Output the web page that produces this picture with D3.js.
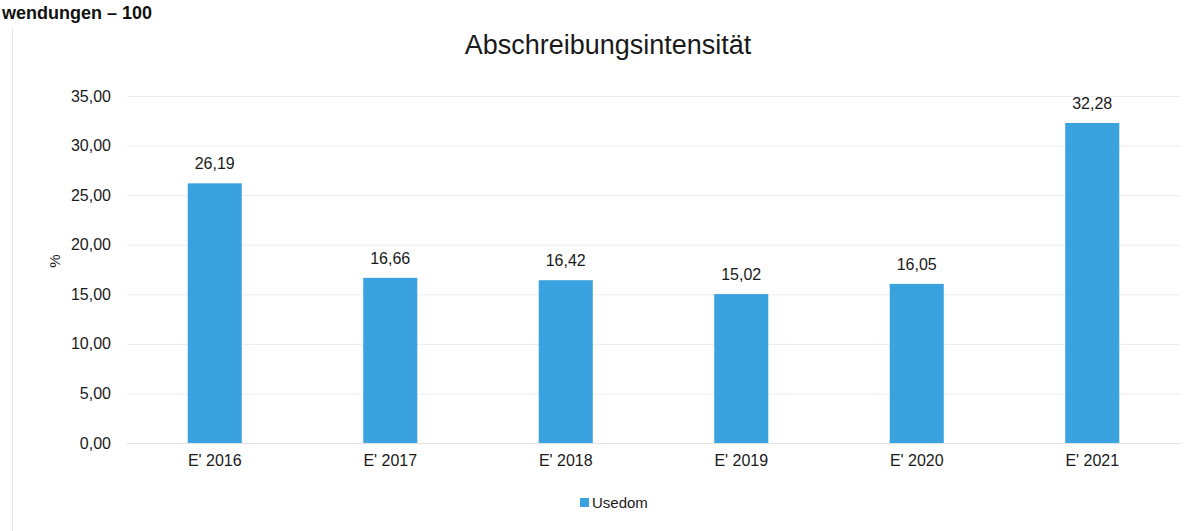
<!DOCTYPE html>
<html><head><meta charset="utf-8">
<script src="https://cdn.jsdelivr.net/npm/d3@7"></script>
<style>body{margin:0;background:#fff;}svg{display:block;font-family:Arial,"Liberation Sans",sans-serif;}</style>
</head><body><svg id="c" width="1201" height="531"></svg>
<script>
const categories = ["E' 2016","E' 2017","E' 2018","E' 2019","E' 2020","E' 2021"];
const values = [26.19,16.66,16.42,15.02,16.05,32.28];
const yTicks = [0,5,10,15,20,25,30,35];
const seriesName = "Usedom";
const fmt = v => d3.format(".2f")(v).replace(".", ",");

const svg = d3.select("#c");
const x = d3.scaleBand().domain(categories).range([127,1180]).paddingInner(0.692).paddingOuter(0.346);
const y = d3.scaleLinear().domain([0,35]).range([443,96]);
const color = "#3aa3df";
const txt = "#1a1a1a";

// header fragment
svg.append("text").attr("x",2).attr("y",19).attr("font-size",18).attr("font-weight","bold").attr("fill","#111").text("wendungen – 100");
// left border
svg.append("line").attr("x1",12.5).attr("x2",12.5).attr("y1",28).attr("y2",531).attr("stroke","#e6e6e6");

svg.append("text").attr("x",608).attr("y",54).attr("text-anchor","middle").attr("font-size",27).attr("fill",txt).text("Abschreibungsintensität");

// grid
svg.append("g").selectAll("line").data(yTicks.filter(d=>d>0)).join("line")
  .attr("x1",127).attr("x2",1180).attr("y1",d=>y(d)+0.5).attr("y2",d=>y(d)+0.5).attr("stroke","#ededed");

const yAxis = svg.append("g").attr("transform","translate(111,0)")
  .call(d3.axisLeft(y).tickValues(yTicks).tickFormat(fmt).tickSize(0).tickPadding(0));
yAxis.select(".domain").remove();
yAxis.selectAll("text").attr("font-size",16).attr("fill",txt).attr("font-family","Arial,'Liberation Sans',sans-serif");

svg.append("line").attr("x1",127).attr("x2",1180).attr("y1",443.5).attr("y2",443.5).attr("stroke","#e3e3e3");

svg.append("text").attr("transform","translate(60,261) rotate(-90)").attr("text-anchor","middle").attr("font-size",15).attr("fill",txt).text("%");

svg.append("g").selectAll("rect").data(values).join("rect")
  .attr("x",(d,i)=>x(categories[i])).attr("width",x.bandwidth())
  .attr("y",d=>y(d)).attr("height",d=>y(0)-y(d)).attr("fill",color);

svg.append("g").selectAll("text").data(values).join("text")
  .attr("x",(d,i)=>x(categories[i])+x.bandwidth()/2).attr("y",d=>y(d)-14)
  .attr("text-anchor","middle").attr("font-size",16).attr("fill",txt).text(d=>fmt(d));

const xAxis = svg.append("g").attr("transform","translate(0,443)")
  .call(d3.axisBottom(x).tickSize(0).tickPadding(12));
xAxis.select(".domain").remove();
xAxis.selectAll("text").attr("font-size",16).attr("fill",txt).attr("font-family","Arial,'Liberation Sans',sans-serif");

// legend
svg.append("rect").attr("x",580).attr("y",498).attr("width",9).attr("height",9).attr("fill",color);
svg.append("text").attr("x",592).attr("y",508).attr("font-size",15).attr("fill",txt).text(seriesName);
</script></body></html>
